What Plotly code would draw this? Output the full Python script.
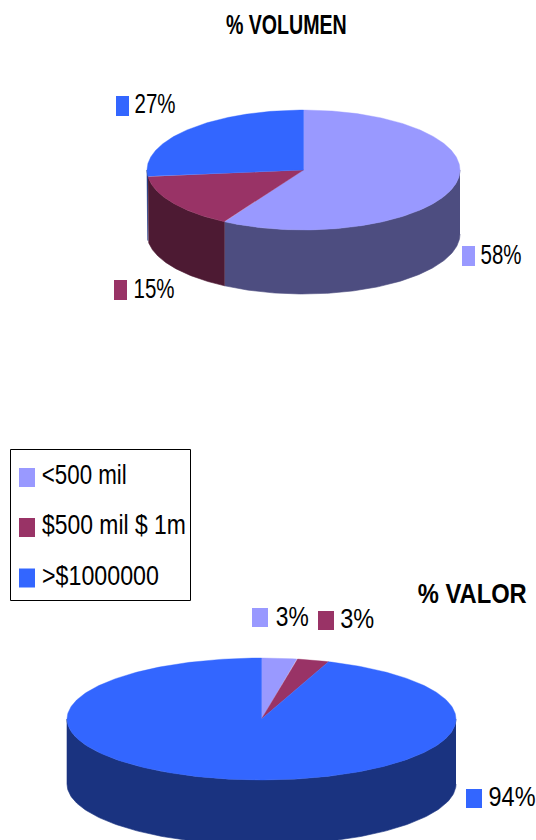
import json
import numpy as np
import plotly.graph_objects as go

# ---- data ----
categories = ["<500 mil", "$500 mil $ 1m", ">$1000000"]
volumen = [58.4, 14.8, 26.8]
valor = [2.9, 2.7, 94.4]
volumen_title = "% VOLUMEN"
valor_title = "% VALOR"

top_colors = ["#9999FF", "#993366", "#3366FF"]
side_colors = ["#4D4D80", "#4D1A33", "#1A3380"]

FONT = "Liberation Sans, Arial, sans-serif"
fig = go.Figure()


def ell(cx, cy, rx, ry, deg):
    r = np.radians(deg)
    return cx + rx * np.sin(r), cy - ry * np.cos(r)


def pie3d(vals, cx, cy, rx, ry, depth, names):
    total = sum(vals)
    edges = np.concatenate([[0], np.cumsum(vals) / total * 360])
    for i in range(len(vals)):
        a, b = max(edges[i], 90), min(edges[i + 1], 270)
        if b <= a:
            continue
        t = np.linspace(a, b, 160)
        x, y = ell(cx, cy, rx, ry, t)
        xs = np.concatenate([x, x[::-1]])
        ys = np.concatenate([y, y[::-1] + depth])
        fig.add_trace(go.Scatter(x=xs, y=ys, fill="toself", mode="lines",
                                 line=dict(width=0.6, color=side_colors[i]),
                                 fillcolor=side_colors[i], name=names[i],
                                 hoverinfo="skip", showlegend=False))
    for i in range(len(vals)):
        t = np.linspace(edges[i], edges[i + 1], 360)
        x, y = ell(cx, cy, rx, ry, t)
        xs = np.concatenate([[cx], x, [cx]])
        ys = np.concatenate([[cy], y, [cy]])
        fig.add_trace(go.Scatter(x=xs, y=ys, fill="toself", mode="lines",
                                 line=dict(width=0.4, color=top_colors[i]),
                                 fillcolor=top_colors[i], name=names[i],
                                 text=f"{names[i]}: {vals[i]:.0f}%", hoverinfo="text",
                                 showlegend=False))


pie3d(volumen, 303.5, 170, 156.5, 60, 64, categories)
pie3d(valor, 261.5, 719, 194.5, 61, 65, categories)

shapes = []
annotations = []
text_widths = []


def swatch(x0, y0, x1, y1, color):
    shapes.append(dict(type="rect", xref="x", yref="y", x0=x0, x1=x1, y0=y0, y1=y1,
                       fillcolor=color, line=dict(width=0), layer="above"))


def label(x, y, s, width, size=28, bold=False):
    annotations.append(dict(x=x, y=y, xref="x", yref="y", text=s,
                            showarrow=False, xanchor="center", yanchor="middle",
                            borderpad=0,
                            font=dict(family=FONT, size=size, color="#000000",
                                      weight=700 if bold else 400)))
    text_widths.append(width)


# legend box
shapes.append(dict(type="rect", xref="x", yref="y", x0=10.5, x1=190.5, y0=449.5, y1=600.5,
                   fillcolor="white", line=dict(width=1, color="#000000"), layer="below"))
legend_rows = [(477.5, 84.5, 85), (527.5, 114, 144), (578, 100.5, 117)]
for i, (cat, row) in enumerate(zip(categories, legend_rows)):
    y, xc, w = row
    swatch(19, y - 9.5, 35, y + 9.5, top_colors[i])
    label(xc, y - 3, cat, w)

# titles
label(286.5, 24, volumen_title, 121, bold=True)
label(472.5, 593, valor_title, 109, bold=True)

# volumen data labels
swatch(462, 246, 475, 266, top_colors[0]); label(500.5, 254, f"{volumen[0]:.0f}%", 41)
swatch(114, 280, 127, 300, top_colors[1]); label(153.5, 288, f"{volumen[1]:.0f}%", 41)
swatch(116, 96, 129, 116, top_colors[2]); label(155, 103, f"{volumen[2]:.0f}%", 41)

# valor data labels
swatch(252, 608, 268, 627, top_colors[0]); label(291.5, 616, f"{valor[0]:.0f}%", 33)
swatch(318, 611, 334, 630, top_colors[1]); label(357, 618, f"{valor[1]:.0f}%", 34)
swatch(466, 789, 482, 808, top_colors[2]); label(511.5, 796, f"{valor[2]:.0f}%", 47)

fig.update_layout(
    width=536, height=840, margin=dict(l=0, r=0, t=0, b=0),
    paper_bgcolor="white", plot_bgcolor="white", showlegend=False,
    xaxis=dict(range=[0, 536], visible=False, fixedrange=True),
    yaxis=dict(range=[840, 0], visible=False, fixedrange=True),
    shapes=shapes, annotations=annotations,
)

post = """
document.body.style.margin='0';document.body.style.overflow='hidden';
var w = %s;
document.querySelectorAll('.annotation-text').forEach(function(t, i){
  var x = parseFloat(t.getAttribute('x')) || 0;
  var s = w[i] / t.getComputedTextLength();
  t.setAttribute('transform', 'translate(' + x + ',0) scale(' + s + ',1) translate(' + (-x) + ',0)');
});
""" % json.dumps(text_widths)

fig.write_html("out.html", config={"displayModeBar": False}, post_script=post)
